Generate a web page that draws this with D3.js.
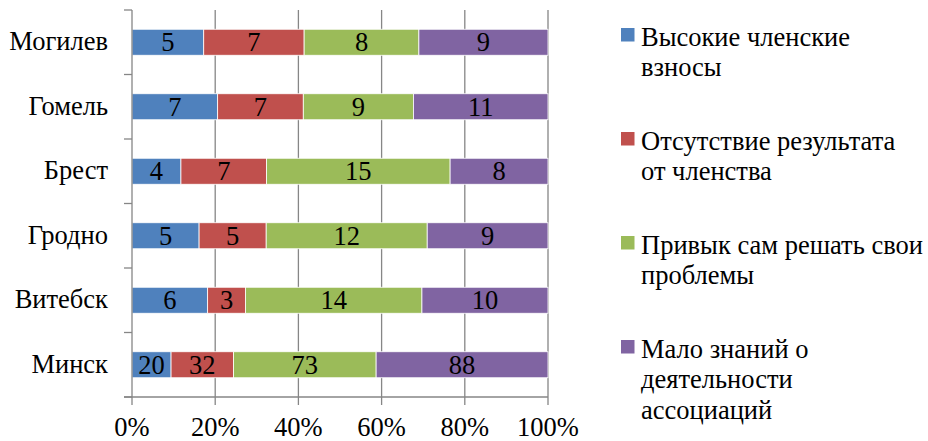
<!DOCTYPE html>
<html><head><meta charset="utf-8">
<script src="https://cdn.jsdelivr.net/npm/d3@7"></script>
<style>body{margin:0;background:#fff}svg{display:block}</style>
</head><body>
<script>
const categories = ["Могилев","Гомель","Брест","Гродно","Витебск","Минск"];
const seriesNames = ["Высокие членские взносы","Отсутствие результата от членства","Привык сам решать свои проблемы","Мало знаний о деятельности ассоциаций"];
const legendLines = [["Высокие членские","взносы"],["Отсутствие результата","от членства"],["Привык сам решать свои","проблемы"],["Мало знаний о","деятельности","ассоциаций"]];
const colors = ["#4F81BD","#C0504D","#9BBB59","#8064A2"];
const s1 = [5,7,4,5,6,20];
const s2 = [7,7,7,5,3,32];
const s3 = [8,9,15,12,14,73];
const s4 = [9,11,8,9,10,88];
const tickValues = [0,0.2,0.4,0.6,0.8,1];

const W=928,H=441;
const font="Liberation Serif";
const fs=26.5;
const svg=d3.select("body").append("svg").attr("width",W).attr("height",H);
const x=d3.scaleLinear().domain([0,1]).range([132,548]);
const yb=d3.scaleBand().domain(categories).range([10,397]);

// gridlines
svg.append("g").selectAll("line").data(tickValues.slice(1)).join("line")
  .attr("x1",d=>x(d)).attr("x2",d=>x(d)).attr("y1",10).attr("y2",397)
  .attr("stroke","#868686").attr("stroke-width",1.3);

const rows=categories.map((c,i)=>{const v=[s1[i],s2[i],s3[i],s4[i]];const t=d3.sum(v);let acc=0;
  return v.map((val,k)=>{const o={cat:c,k,val,x0:acc/t,x1:(acc+val)/t};acc+=val;return o;});});
const segs=rows.flat();
const bh=26;
svg.append("g").selectAll("rect").data(segs).join("rect")
  .attr("x",d=>x(d.x0)).attr("width",d=>x(d.x1)-x(d.x0))
  .attr("y",d=>yb(d.cat)+yb.bandwidth()/2-bh/2).attr("height",bh)
  .attr("fill",d=>colors[d.k]).attr("stroke","#fff").attr("stroke-width",0.8);
svg.append("g").selectAll("text").data(segs).join("text")
  .attr("x",d=>(x(d.x0)+x(d.x1))/2).attr("y",d=>yb(d.cat)+yb.bandwidth()/2+9)
  .attr("text-anchor","middle").attr("font-family",font).attr("font-size",fs).attr("fill","#000")
  .text(d=>d.val);

// axes
const ax=svg.append("g").attr("stroke","#868686").attr("stroke-width",1.3);
ax.append("line").attr("x1",132).attr("x2",132).attr("y1",10).attr("y2",397);
ax.selectAll("line.t").data(d3.range(categories.length+1)).join("line").attr("class","t")
  .attr("x1",124).attr("x2",132).attr("y1",i=>10+i*yb.step()).attr("y2",i=>10+i*yb.step());
ax.append("line").attr("x1",124).attr("x2",548).attr("y1",397).attr("y2",397);
ax.selectAll("line.xt").data(tickValues).join("line").attr("class","xt")
  .attr("x1",d=>x(d)).attr("x2",d=>x(d)).attr("y1",397).attr("y2",405);

svg.append("g").selectAll("text").data(categories).join("text")
  .attr("x",108).attr("y",d=>yb(d)+yb.bandwidth()/2+8).attr("text-anchor","end")
  .attr("font-family",font).attr("font-size",fs).text(d=>d);
svg.append("g").selectAll("text").data(tickValues).join("text")
  .attr("x",d=>x(d)).attr("y",436).attr("text-anchor","middle")
  .attr("font-family",font).attr("font-size",fs).text(d=>Math.round(d*100)+"%");

// legend
const lg=svg.append("g").selectAll("g").data(seriesNames).join("g")
  .attr("transform",(d,i)=>`translate(621,${45.5+i*104})`);
lg.append("rect").attr("x",0).attr("y",-17.5).attr("width",13.5).attr("height",13.5).attr("fill",(d,i)=>colors[i]);
lg.append("text").attr("font-family",font).attr("font-size",fs)
  .selectAll("tspan").data((d,i)=>legendLines[i]).join("tspan")
  .attr("x",20).attr("y",(d,j)=>j*30.5).text(d=>d);
</script>
</body></html>
